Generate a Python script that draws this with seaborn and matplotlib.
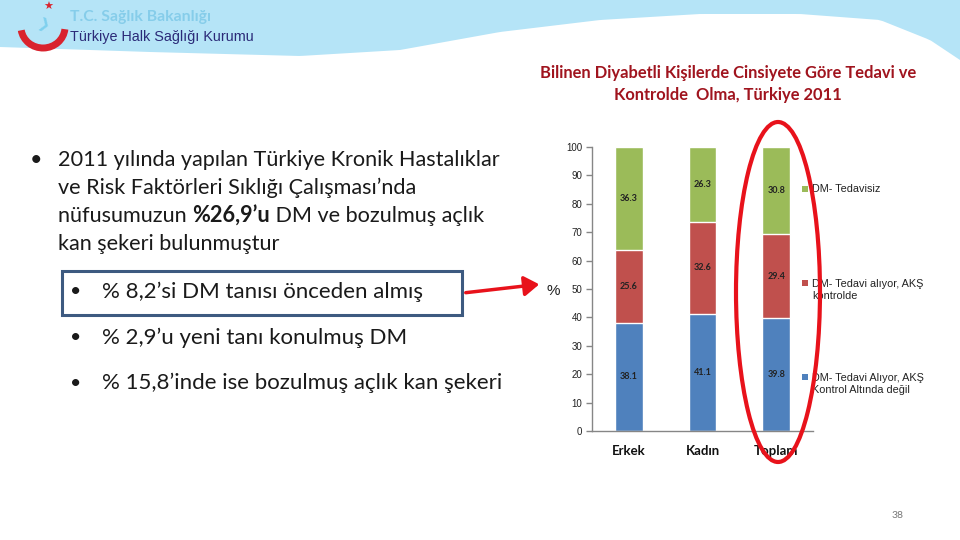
import matplotlib
matplotlib.use("Agg")
import matplotlib.pyplot as plt
import seaborn as sns
import numpy as np
import pandas as pd
from matplotlib.patches import Polygon, Rectangle, Ellipse, Arc, FancyArrowPatch

# ---------------- data ----------------
categories = ["Erkek", "Kadın", "Toplam"]
not_controlled = [38.1, 41.1, 39.8]   # DM- Tedavi Alıyor, AKŞ Kontrol Altında değil
controlled = [25.6, 32.6, 29.4]       # DM- Tedavi alıyor, AKŞ kontrolde
untreated = [36.3, 26.3, 30.8]        # DM- Tedavisiz
series_names = ["DM- Tedavi Alıyor, AKŞ\nKontrol Altında değil",
                "DM- Tedavi alıyor, AKŞ\nkontrolde",
                "DM- Tedavisiz"]
y_ticks = list(range(0, 101, 10))

title = "Bilinen Diyabetli Kişilerde Cinsiyete Göre Tedavi ve\nKontrolde  Olma, Türkiye 2011"

sns.set_theme(style="white")
plt.rcParams['font.family'] = ['Lato', 'DejaVu Sans']

W, H = 960, 540
fig = plt.figure(figsize=(9.6, 5.4), dpi=100)

def fx(x):
    return x / W

def fy(y):
    return 1 - y / H

# ---------------- header band ----------------
wave_x = [0, 150, 300, 400, 500, 600, 700, 800, 880, 930, 960]
wave_y = [47, 52, 56, 50, 32, 20, 14, 14, 20, 40, 60]
xs = np.linspace(0, 960, 200)
ys = np.interp(xs, wave_x, wave_y)
pts = [(fx(0), fy(0))] + [(fx(a), fy(b)) for a, b in zip(xs, ys)] + [(fx(960), fy(0))]
fig.patches.append(Polygon(pts, closed=True, transform=fig.transFigure,
                           facecolor="#b5e4f7", edgecolor="none", zorder=0))

# logo
fig.patches.append(Arc((fx(43), fy(27)), fx(44), 42 / H, theta1=195, theta2=350,
                       transform=fig.transFigure, color="#d9232e", lw=5, zorder=2))
fig.text(fx(48), fy(7), "★", color="#d9232e", fontsize=8, ha="center", va="center",
         family=['DejaVu Sans'])
fig.text(fx(44), fy(25), "❯", color="#7fd0ee", fontsize=10, ha="center", va="center",
         family=['DejaVu Sans'], rotation=-20)

fig.text(fx(70), fy(17), "T.C. Sağlık Bakanlığı", color="#86cdea", fontsize=11.3,
         fontweight="bold", ha="left", va="center")
fig.text(fx(70), fy(37), "Türkiye Halk Sağlığı Kurumu", color="#2b2a78", fontsize=10.4,
         ha="left", va="center", family=['Liberation Sans', 'DejaVu Sans'])

# ---------------- left text ----------------
text_color = "#1a1a1a"
MF = 15.6
fig.text(fx(36), fy(160), "•", fontsize=MF, ha="center", va="center", color=text_color)
fig.text(fx(58), fy(160), "2011 yılında yapılan Türkiye Kronik Hastalıklar", fontsize=MF,
         ha="left", va="center", color=text_color)
fig.text(fx(58), fy(188), "ve Risk Faktörleri Sıklığı Çalışması’nda", fontsize=MF,
         ha="left", va="center", color=text_color)
t1 = fig.text(fx(58), fy(216), "nüfusumuzun ", fontsize=MF, ha="left", va="center",
              color=text_color)
fig.canvas.draw()
r = fig.canvas.get_renderer()
bb = t1.get_window_extent(r)
t2 = fig.text(bb.x1 / W, fy(216), "%26,9’u", fontsize=MF, fontweight="bold", ha="left",
              va="center", color=text_color)
bb2 = t2.get_window_extent(r)
fig.text(bb2.x1 / W, fy(216), " DM ve bozulmuş açlık", fontsize=MF, ha="left",
         va="center", color=text_color)
fig.text(fx(58), fy(244), "kan şekeri bulunmuştur", fontsize=MF, ha="left", va="center",
         color=text_color)

sub_items = ["% 8,2’si DM tanısı önceden almış",
             "% 2,9’u yeni tanı konulmuş DM",
             "% 15,8’inde ise bozulmuş açlık kan şekeri"]
sub_y = [292, 338, 383]
for s, yy in zip(sub_items, sub_y):
    fig.text(fx(76), fy(yy), "•", fontsize=14, ha="center", va="center", color=text_color)
    fig.text(fx(102), fy(yy), s, fontsize=16, ha="left", va="center", color=text_color)

fig.patches.append(Rectangle((fx(62), fy(315)), fx(400), 44 / H, transform=fig.transFigure,
                             facecolor="none", edgecolor="#3d5a80", lw=2.2, zorder=3))
fig.patches.append(FancyArrowPatch((fx(463), fy(293)), (fx(542), fy(284)),
                                   transform=fig.transFigure, arrowstyle="-|>,head_length=6,head_width=4",
                                   mutation_scale=1.5, color="#e8121b", lw=2.5, zorder=3))

# ---------------- chart ----------------
ax = fig.add_axes([fx(592), fy(431), fx(813 - 592), (431 - 147) / H])
df = pd.DataFrame({"cat": categories, "b": not_controlled, "r": controlled, "g": untreated})
df["br"] = df["b"] + df["r"]
df["brg"] = df["br"] + df["g"]

colors = ["#4f81bd", "#c0504d", "#9bbb59"]
for col, c in zip(["brg", "br", "b"], colors[::-1]):
    sns.barplot(data=df, x="cat", y=col, color=c, width=0.38, ax=ax,
                edgecolor="white", linewidth=1, saturation=1)

ax.set_xlim(-0.5, 2.5)
ax.set_ylim(0, 100)
ax.set_yticks(y_ticks)
ax.set_yticklabels([str(t) for t in y_ticks], fontsize=7, color="#222222",
                   family=['Liberation Sans', 'DejaVu Sans'])
ax.set_xticks(range(len(categories)))
ax.set_xticklabels(categories, fontsize=9.5, fontweight="bold", color="#111111")
ax.set_xticks([-0.5, 0.5, 1.5, 2.5], minor=True)
ax.tick_params(axis="x", which="major", length=0, pad=10)
ax.tick_params(axis="x", which="minor", length=4, direction="out", color="#868686", width=1)
ax.tick_params(axis="y", length=4, direction="out", color="#868686", width=1, left=True, pad=3)
ax.set_xlabel("")
ax.set_ylabel("")
for s in ["top", "right"]:
    ax.spines[s].set_visible(False)
for s in ["left", "bottom"]:
    ax.spines[s].set_color("#868686")
    ax.spines[s].set_linewidth(1)
ax.set_facecolor("none")

# data labels
for i in range(len(categories)):
    b, rr, g = not_controlled[i], controlled[i], untreated[i]
    for val, center in [(b, b / 2), (rr, b + rr / 2), (g, b + rr + g / 2)]:
        ax.text(i, center, f"{val}", ha="center", va="center", fontsize=6.5,
                fontweight="bold", color="#222222")

fig.text(fx(553), fy(291), "%", fontsize=11, ha="center", va="center", color="#222222",
         family=['Liberation Sans', 'DejaVu Sans'])

# title
fig.text(fx(728), fy(84), title, ha="center", va="center", fontsize=11.9,
         fontweight="bold", color="#a0141e", linespacing=1.5)

# legend
leg_entries = [(series_names[2], colors[2], 189),
               (series_names[1], colors[1], 290),
               (series_names[0], colors[0], 384)]
for name, c, yy in leg_entries:
    n_lines = name.count("\n") + 1
    top_y = yy - (n_lines - 1) * 7
    fig.patches.append(Rectangle((fx(802), fy(top_y + 3)), fx(6), 6 / H,
                                 transform=fig.transFigure, facecolor=c, edgecolor="none",
                                 zorder=3))
    fig.text(fx(812), fy(yy), name, ha="left", va="center", fontsize=7.8, color="#222222",
             linespacing=1.3, family=['Liberation Sans', 'DejaVu Sans'])

# red ellipse around Toplam
fig.patches.append(Ellipse((fx(778), fy(292)), fx(84), 340 / H, transform=fig.transFigure,
                           facecolor="none", edgecolor="#e8121b", lw=3, zorder=4))

# page number
fig.text(fx(898), fy(515), "38", fontsize=7.5, color="#777777", ha="center", va="center")

fig.savefig("out.png", dpi=100)
